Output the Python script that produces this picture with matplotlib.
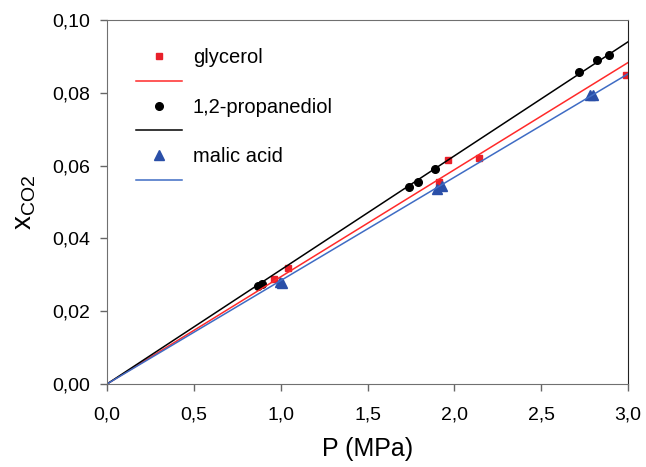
import numpy as np
from matplotlib import pyplot as plt
from matplotlib.lines import Line2D
from matplotlib.ticker import FuncFormatter, MultipleLocator

plt.rcParams['font.family'] = ['Liberation Sans', 'DejaVu Sans']
plt.rcParams['mathtext.fontset'] = 'custom'
plt.rcParams['mathtext.rm'] = 'Liberation Sans'

# glycerol
P_gly = [0.96, 1.04, 1.91, 1.965, 2.14, 2.99]
x_gly = [0.0288, 0.0320, 0.0556, 0.0615, 0.0620, 0.0848]
# 1,2-propanediol
P_pro = [0.87, 0.895, 1.74, 1.79, 1.89, 2.72, 2.82, 2.89]
x_pro = [0.0269, 0.0275, 0.0540, 0.0554, 0.0591, 0.0858, 0.0890, 0.0904]
# malic acid
P_mal = [0.995, 1.01, 1.90, 1.93, 2.78, 2.80]
x_mal = [0.0279, 0.0277, 0.0536, 0.0543, 0.0793, 0.0795]

# fitted lines (through origin)
P_fit = [0.0, 3.0]
x_fit_gly = [0.0, 0.0883]
x_fit_pro = [0.0, 0.0940]
x_fit_mal = [0.0, 0.0852]

red = '#e8202a'
black = '#000000'
blue = '#2a4fa8'
blue_line = '#3f6cc4'

fig = plt.figure(figsize=(6.46, 4.67), dpi=100)
ax = fig.add_axes([107/646, 1-384/467, 521/646, 364/467])

ax.plot(P_gly, x_gly, 's', color=red, markersize=5, linestyle='None')
ax.plot(P_pro, x_pro, 'o', color=black, markersize=5.5, linestyle='None')
ax.plot(P_mal, x_mal, '^', color=blue, markersize=7, linestyle='None')
ax.plot(P_fit, x_fit_gly, color='#ff2a2a', lw=1.1)
ax.plot(P_fit, x_fit_pro, color=black, lw=1.1)
ax.plot(P_fit, x_fit_mal, color=blue_line, lw=1.1)

ax.set_xlim(0, 3.0)
ax.set_ylim(0, 0.10)
ax.xaxis.set_major_locator(MultipleLocator(0.5))
ax.yaxis.set_major_locator(MultipleLocator(0.02))
ax.xaxis.set_major_formatter(FuncFormatter(lambda v, p: f'{v:.1f}'.replace('.', ',')))
ax.yaxis.set_major_formatter(FuncFormatter(lambda v, p: f'{v:.2f}'.replace('.', ',')))
ax.tick_params(direction='out', length=5, width=1, color='#666666', labelsize=14)
ax.tick_params(axis='x', pad=11)
ax.tick_params(axis='y', pad=7)
for s in ['left', 'bottom', 'top']:
    ax.spines[s].set_color('#707070')
ax.spines['right'].set_color('#222222')

ax.set_xlabel('P (MPa)', fontsize=18, labelpad=10)
ax.set_ylabel(r'$\mathregular{x_{CO2}}$', fontsize=20, labelpad=10)

handles = [
    Line2D([], [], marker='s', color=red, linestyle='None', markersize=5),
    Line2D([], [], color='#ff2a2a', lw=1.1),
    Line2D([], [], marker='o', color=black, linestyle='None', markersize=5.5),
    Line2D([], [], color=black, lw=1.1),
    Line2D([], [], marker='^', color=blue, linestyle='None', markersize=7),
    Line2D([], [], color=blue_line, lw=1.1),
]
labels = ['glycerol', '', '1,2-propanediol', '', 'malic acid', '']
ax.legend(handles, labels, loc='upper left', bbox_to_anchor=(0.020, 0.973),
          frameon=False, fontsize=14.5, handlelength=2.3, handletextpad=0.55,
          labelspacing=0.29)

fig.savefig('out.png', dpi=100)
